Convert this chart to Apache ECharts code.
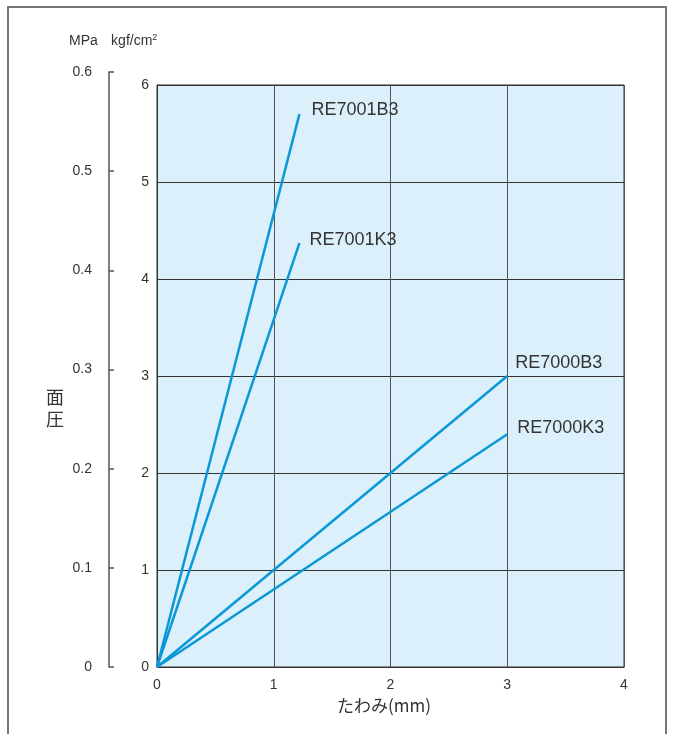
<!DOCTYPE html>
<html><head><meta charset="utf-8">
<script src="https://cdn.jsdelivr.net/npm/echarts@6/dist/echarts.min.js"></script>
<style>html,body{margin:0;padding:0;background:#fff}#c{width:673px;height:734px}</style>
</head><body><div id="c"></div>
<script>
const seriesNames = ['RE7001B3', 'RE7001K3', 'RE7000B3', 'RE7000K3'];
const seriesData = [
  [[0, 0], [1.22, 5.7]],
  [[0, 0], [1.22, 4.37]],
  [[0, 0], [3.0, 3.0]],
  [[0, 0], [3.0, 2.4]]
];
const labelOffsets = [[12, -4], [10, -3], [8, -13], [10, -6]];
const xTicks = [0, 1, 2, 3, 4];
const kgfTicks = [0, 1, 2, 3, 4, 5, 6];
const mpaTicks = [0, 0.1, 0.2, 0.3, 0.4, 0.5, 0.6];

const chart = echarts.init(document.getElementById('c'));
const font = 'Liberation Sans, Arial, sans-serif';
const lineColor = '#0a98d6';
chart.setOption({
  animation: false,
  grid: [
    {left: 157, top: 85, width: 467, height: 582, show: true, backgroundColor: '#dcf0fb', borderColor: '#333', borderWidth: 1},
    {left: 109, top: 72, width: 10, height: 595}
  ],
  xAxis: [
    {type: 'value', gridIndex: 0, min: 0, max: 4, interval: 1,
     axisLine: {show: true, lineStyle: {color: '#333'}}, axisTick: {show: false},
     splitLine: {show: true, lineStyle: {color: '#555', width: 1}},
     axisLabel: {color: '#333', fontSize: 14, fontFamily: font, margin: 11}},
    {type: 'value', gridIndex: 1, min: 0, max: 1, show: false}
  ],
  yAxis: [
    {type: 'value', gridIndex: 0, min: 0, max: 6, interval: 1,
     axisLine: {show: true, lineStyle: {color: '#333'}}, axisTick: {show: false},
     splitLine: {show: true, lineStyle: {color: '#333', width: 1}},
     axisLabel: {color: '#333', fontSize: 14, fontFamily: font, margin: 8}},
    {type: 'value', gridIndex: 1, min: 0, max: 0.6, interval: 0.1,
     axisLine: {show: true, lineStyle: {color: '#555', width: 1.5}},
     axisTick: {show: true, inside: true, length: 5, lineStyle: {color: '#555', width: 1.5}},
     splitLine: {show: false},
     axisLabel: {color: '#333', fontSize: 14, fontFamily: font, margin: 17,
       formatter: v => (v === 0 ? '0' : v.toFixed(1))}}
  ],
  series: seriesNames.map((n, i) => ({
    name: n, type: 'line', xAxisIndex: 0, yAxisIndex: 0, data: seriesData[i],
    symbol: 'none', lineStyle: {color: lineColor, width: 2.5},
    endLabel: {show: true, formatter: n, color: '#333', fontSize: 18, fontFamily: font,
      align: 'left', verticalAlign: 'middle', offset: labelOffsets[i], distance: 0}
  })),
  graphic: [
    {type: 'rect', shape: {x: 8, y: 7, width: 658, height: 760}, style: {fill: 'none', stroke: '#777', lineWidth: 2}, silent: true},
    {type: 'text', left: 69, top: 33, style: {
      text: '{a|MPa}    {a|kgf/cm}{s|2}', rich: {
        a: {fontSize: 14, fill: '#333', fontFamily: font},
        s: {fontSize: 9, fill: '#333', fontFamily: font, verticalAlign: 'top', padding: [0, 0, 8, 0]}
      }}},
    {type: 'text', left: 46, top: 386, style: {text: '面\n圧', fontSize: 18, lineHeight: 22, fill: '#333', fontFamily: 'Noto Sans CJK JP'}},
    {type: 'text', left: 337, top: 697, style: {text: 'たわみ(mm)', fontSize: 17, fill: '#333', fontFamily: 'Noto Sans CJK JP'}}
  ]
});
</script></body></html>
